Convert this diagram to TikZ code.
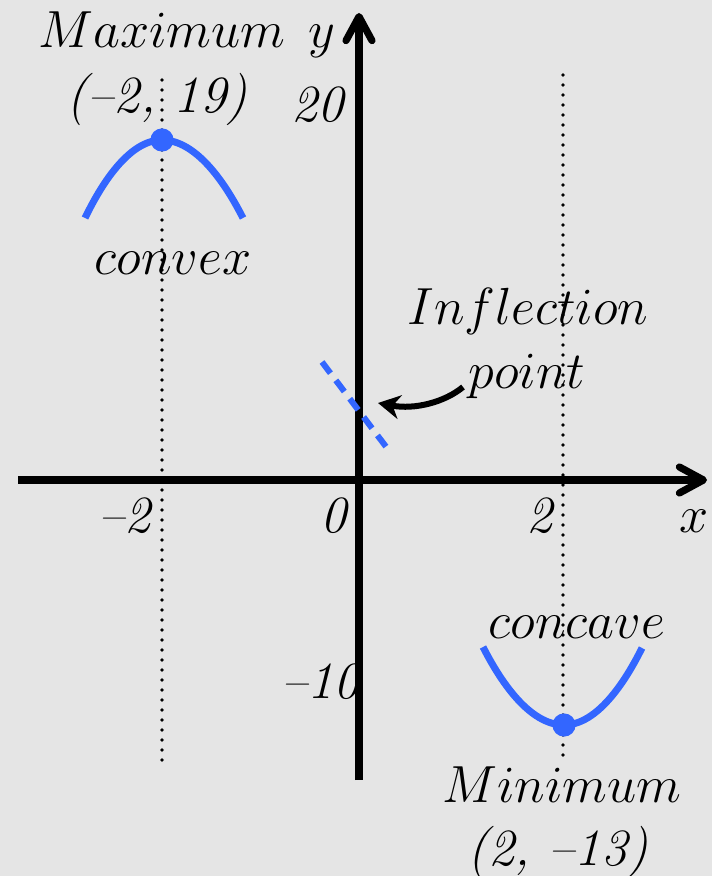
\documentclass[tikz,border=0pt]{standalone}
\usepackage{xcolor}
\usetikzlibrary{arrows.meta}
\definecolor{bgfill}{HTML}{E5E5E5}
\definecolor{curveblue}{HTML}{3366FF}
\newcommand{\numit}[1]{\textit{#1}}
\tikzset{
  plotlabel/.style = {
    anchor=base,
    inner sep=0pt,
    font=\Huge,
    scale=1.05
  },
  axisline/.style = {
    line width=3.6pt,
    -{Straight Barb[length=12pt,width=13pt,round]}
  },
  guideline/.style = {
    line width=1.9pt,
    line cap=round,
    dash pattern=on 0pt off 5pt
  },
  extremum/.style = {
    curveblue,
    line width=3.5pt
  },
  tangentline/.style = {
    curveblue,
    line width=3pt,
    dash pattern=on 7pt off 4.5pt
  },
  pointer/.style = {
    line width=3pt,
    -{Stealth[length=11pt,width=12pt]}
  }
}

\begin{document}
\begin{tikzpicture}[x=0.5pt,y=-0.5pt]
  \path[use as bounding box,fill=bgfill] (0,0) rectangle (712,876);
  % axes end points
  \coordinate (xstart) at (18,480);
  \coordinate (xend) at (707,480);
  \coordinate (ystart) at (359,780);
  \coordinate (yend) at (359,13);
  % guides through the extrema
  \coordinate (maxtop) at (162,80);
  \coordinate (maxbot) at (162,760);
  \coordinate (mintop) at (563,75);
  \coordinate (minbot) at (563,762);
  \draw[guideline] (maxtop) -- (maxbot);
  \draw[guideline] (mintop) -- (minbot);
  % tick labels
  \node[plotlabel] (tickmtwo) at (126,532) {\numit{--2}};
  \node[plotlabel] (tickzero) at (335,532) {\numit{0}};
  \node[plotlabel] (ticktwo) at (541,532) {\numit{2}};
  \node[plotlabel] (xlabel) at (694,532) {$x$};
  \node[plotlabel] (ylabel) at (322,48) {$y$};
  \node[plotlabel] (ticktwenty) at (319,122) {\numit{20}};
  \node[plotlabel] (tickmten) at (322,698) {\numit{--10}};
  % annotations
  \node[plotlabel] (maxlabel) at (162,48) {$Maximum$};
  \node[plotlabel] (maxcoord) at (157,113) {\numit{(--2, 19)}};
  \node[plotlabel] (convexlabel) at (173,275) {$convex$};
  \node[plotlabel] (infllabel) at (528,325) {$Inflection$};
  \node[plotlabel] (pointlabel) at (527,388) {$point$};
  \node[plotlabel] (concavelabel) at (577,638) {$concave$};
  \node[plotlabel] (minlabel) at (562,802) {$Minimum$};
  \node[plotlabel] (mincoord) at (558,865) {\numit{(2, --13)}};
  % axes
  \draw[axisline] (xstart) -- (xend);
  \draw[axisline] (ystart) -- (yend);
  % curve pieces
  \coordinate (maxpt) at (162,140);
  \coordinate (minpt) at (564,725);
  \draw[extremum] (85,218) parabola bend (maxpt) (243,218);
  \draw[extremum] (483,647) parabola bend (minpt) (642,648);
  \fill[curveblue] (maxpt) circle[radius=5.8pt];
  \fill[curveblue] (minpt) circle[radius=5.8pt];
  \coordinate (tangtop) at (322,362);
  \coordinate (tangbot) at (390,452);
  \draw[tangentline] (tangtop) -- (tangbot);
  % arrow to the inflection point
  \coordinate (arrowtail) at (463,387);
  \coordinate (inflpt) at (378,403);
  \draw[pointer] (arrowtail) .. controls (445,402) and (415,410) .. (inflpt);
\end{tikzpicture}
\end{document}
